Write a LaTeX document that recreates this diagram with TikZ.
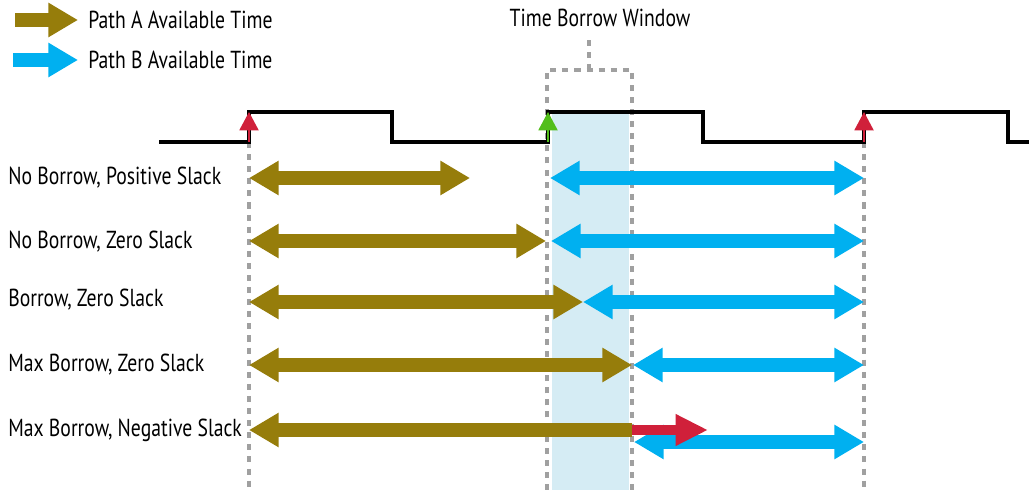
\documentclass[tikz,border=0pt]{standalone}
\usepackage{fontspec}
\setmainfont[FakeStretch=0.8]{PT Sans}
\usetikzlibrary{arrows.meta}
\definecolor{pathA}{RGB}{150,125,11}
\definecolor{pathB}{RGB}{0,176,240}
\definecolor{edgeRed}{RGB}{208,32,58}
\definecolor{edgeGreen}{RGB}{82,190,26}
\definecolor{winFill}{RGB}{213,236,244}
\definecolor{dotGrey}{RGB}{160,160,160}
\tikzset{
  oneway/.style={line width=10pt, -{Triangle[length=21pt,width=23pt]}},
  twoway/.style={line width=10pt, {Triangle[length=21pt,width=23pt]}-{Triangle[length=21pt,width=23pt]}},
  guide/.style={dotGrey, line width=2.2pt, dash pattern=on 4.3pt off 4.3pt},
  clkedge/.style={line width=1.4pt, -{Triangle[length=13pt,width=13.5pt]}},
  lbl/.style={anchor=west, inner sep=0pt, font=\fontsize{17.5}{20}\selectfont}
}
\begin{document}
\begin{tikzpicture}[x=0.025cm, y=-0.025cm]
    \useasboundingbox (0,0) rectangle (1029,490);
    % clock edges, window and rows
    \coordinate (e1) at (249,142);
    \coordinate (e2) at (548,142);
    \coordinate (e3) at (864,142);
    \coordinate (wl) at (547,70);
    \coordinate (wr) at (632,70);
    \coordinate (wm) at (589,70);
    \coordinate (mid) at (583,142);
    \coordinate (r1) at (0,178);
    \coordinate (r2) at (0,241);
    \coordinate (r3) at (0,302);
    \coordinate (r4) at (0,365);
    \coordinate (r5) at (0,430);
    \coordinate (r5b) at (0,442);
    \coordinate (stop1) at (470,178);
    \coordinate (late) at (708,430);
    \coordinate (legAend) at (78,20);
    \coordinate (legBend) at (78,60);

    \fill[winFill] (552,112) rectangle (629,490);
    \draw[guide] (e1) -- (e1 |- 0,490);
    \draw[guide] (e3) -- (e3 |- 0,490);
    \draw[guide] (wl |- 0,490) -- (wl) -- (wr) -- (wr |- 0,490);
    \draw[guide] (wm) -- (589,38);

    % clock
    \draw[line width=2.3pt] (159,142) -- (e1) -- (249,112) -- (392,112) -- (392,142) -- (e2) -- (548,112)
        -- (703,112) -- (703,142) -- (e3) -- (864,112) -- (1008,112) -- (1008,142) -- (1029,142);
    \draw[clkedge, edgeRed] (e1) -- (249,112);
    \draw[clkedge, edgeGreen] (e2) -- (548,112);
    \draw[clkedge, edgeRed] (e3) -- (864,112);

    % legend
    \node[lbl] (legA) at (88,20) {Path A Available Time};
    \node[lbl] (legB) at (88,60) {Path B Available Time};
    \draw[oneway, pathA] (15,20) -- (legAend);
    \draw[oneway, pathB] (13,60) -- (legBend);
    \node (twin) at (600,18) {\fontsize{17.5}{20}\selectfont Time Borrow Window};

    % row labels
    \node[lbl] (row1) at (8,178) {No Borrow, Positive Slack};
    \node[lbl] (row2) at (8,242) {No Borrow, Zero Slack};
    \node[lbl] (row3) at (8,300) {Borrow, Zero Slack};
    \node[lbl] (row4) at (8,365) {Max Borrow, Zero Slack};
    \node[lbl] (row5) at (8,430) {Max Borrow, Negative Slack};

    % path A / path B
    \draw[twoway, pathA] (e1 |- r1) -- (stop1);
    \draw[twoway, pathB] (550,178) -- (e3 |- r1);
    \draw[twoway, pathA] (e1 |- r2) -- (546,241);
    \draw[twoway, pathB] (551,241) -- (e3 |- r2);
    \draw[twoway, pathA] (e1 |- r3) -- (mid |- r3);
    \draw[twoway, pathB] (mid |- r3) -- (e3 |- r3);
    \draw[twoway, pathA] (e1 |- r4) -- (wr |- r4);
    \draw[twoway, pathB] (633,365) -- (e3 |- r4);
    \draw[line width=10pt, pathA, {Triangle[length=21pt,width=23pt]}-] (e1 |- r5) -- (wr |- r5);
    \draw[twoway, pathB] (634,442) -- (e3 |- r5b);
    \draw[line width=7pt, edgeRed, -{Triangle[length=23pt,width=21pt]}] (wr |- r5) -- (late);
\end{tikzpicture}
\end{document}
